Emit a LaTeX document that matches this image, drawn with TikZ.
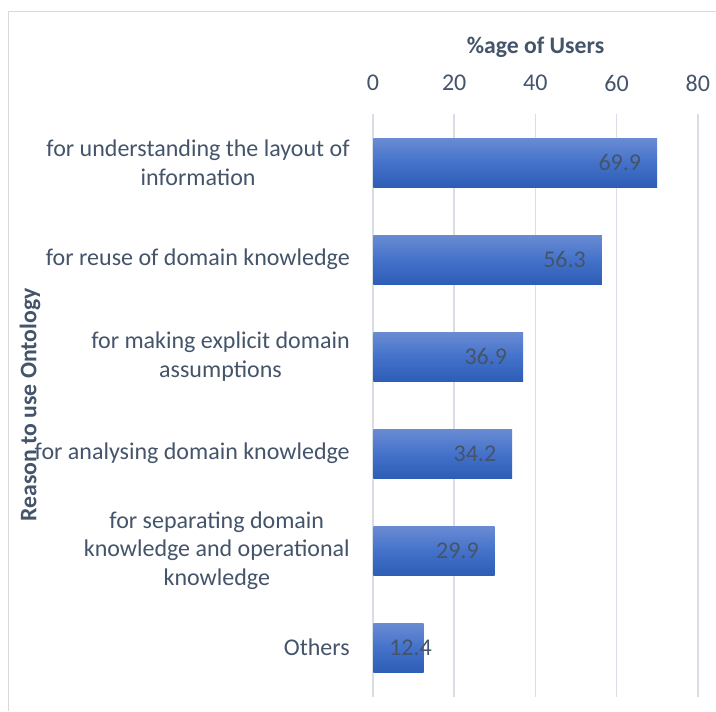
\documentclass[tikz,border=0pt]{standalone}
\usepackage{fontspec}
\setmainfont{Carlito}
\usetikzlibrary{positioning}

\definecolor{txtgray}{HTML}{44546A}
\definecolor{gridgray}{HTML}{D9DDE5}
\definecolor{framegray}{HTML}{D9D9D9}
\definecolor{bartop}{HTML}{6A8BD3}
\definecolor{barmid}{HTML}{4472CA}
\definecolor{barbot}{HTML}{2E5DB6}

\tikzset{
  bar/.style={anchor=west,inner sep=0pt,minimum height=36.75pt,
    top color=bartop,bottom color=barbot,middle color=barmid},
  cat/.style={anchor=east,align=center,text=txtgray,inner sep=0pt,
    font=\fontsize{18}{21.5}\selectfont},
  val/.style={anchor=east,text=txtgray,inner sep=0pt,
    font=\fontsize{18}{21.5}\selectfont},
  tick/.style={text=txtgray,inner sep=0pt,font=\fontsize{18}{21.5}\selectfont},
  axtitle/.style={text=txtgray,font=\fontsize{17.8}{21}\selectfont\bfseries},
  grid/.style={draw=gridgray,line width=1.1pt},
}

\begin{document}
\begin{tikzpicture}[x=0.75pt,y=-0.75pt]

%FRAME
\useasboundingbox (0,0) rectangle (716,711);
\draw[framegray,line width=1.1pt] (716,11.5) -- (8.5,11.5) -- (8.5,711);
%FRAME

\node[axtitle](xtitle) at (535.5,47) {\%age of Users};
\node[axtitle,rotate=90](ytitle) at (30,405) {Reason to use Ontology};

\node[tick](t0) at (373,83) {0};
\node[tick](t20) at (454.2,83) {20};
\node[tick](t40) at (535.4,83) {40};
\node[tick](t60) at (616.6,83) {60};
\node[tick](t80) at (697.8,83) {80};

\draw[grid] (373,114) -- (373,697);
\draw[grid] (454.2,114) -- (454.2,697);
\draw[grid] (535.4,114) -- (535.4,697);
\draw[grid] (616.6,114) -- (616.6,697);
\draw[grid] (697.8,114) -- (697.8,697);

\node[bar,minimum width=283.8*0.75pt](b1) at (373,162.5) {};
\node[bar,minimum width=228.6*0.75pt](b2) at (373,259.5) {};
\node[bar,minimum width=149.8*0.75pt](b3) at (373,356.5) {};
\node[bar,minimum width=138.9*0.75pt](b4) at (373,453.5) {};
\node[bar,minimum width=121.4*0.75pt](b5) at (373,550.5) {};
\node[bar,minimum width=50.3*0.75pt](b6) at (373,647.5) {};

\node[val,left=12pt of b1.east,anchor=east](v1) {69.9};
\node[val,left=12pt of b2.east,anchor=east](v2) {56.3};
\node[val,left=12pt of b3.east,anchor=east](v3) {36.9};
\node[val,left=12pt of b4.east,anchor=east](v4) {34.2};
\node[val,left=12pt of b5.east,anchor=east](v5) {29.9};
\node[val,right=12pt of b6.west,anchor=west](v6) {12.4};

\node[cat](c1) at (350,162.5) {for understanding the layout of\\information};
\node[cat](c2) at (350,259.5) {for reuse of domain knowledge};
\node[cat](c3) at (350,356.5) {for making explicit domain\\assumptions};
\node[cat](c4) at (350,453.5) {for analysing domain knowledge};
\node[cat](c5) at (350,550.5) {for separating domain\\knowledge and operational\\knowledge};
\node[cat](c6) at (350,647.5) {Others};

\end{tikzpicture}
\end{document}
